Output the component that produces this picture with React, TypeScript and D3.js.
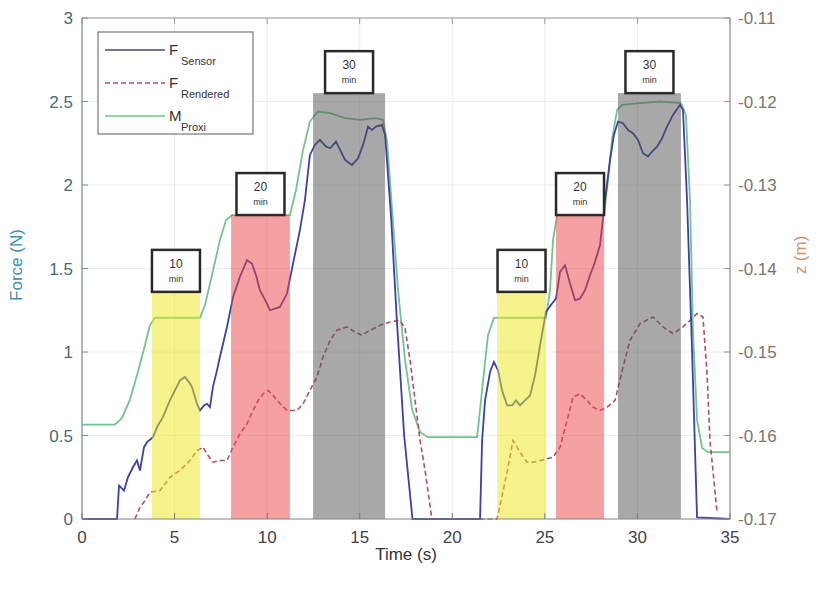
import React from "react";
import * as d3 from "d3";

// Measured force (N)
const sensorT = [0, 1.89, 2.0, 2.27, 2.48, 2.75, 2.97, 3.13, 3.35, 3.51, 3.83, 4.1, 4.37, 4.75, 5.02, 5.29, 5.56, 5.78, 5.94, 6.21, 6.37, 6.59, 6.75, 6.91, 7.07, 7.29, 7.45, 7.83, 8.16, 8.53, 8.91, 9.18, 9.4, 9.61, 9.99, 10.15, 10.42, 10.69, 11.07, 11.4, 11.77, 12.04, 12.31, 12.58, 12.85, 13.18, 13.4, 13.72, 13.94, 14.21, 14.58, 14.91, 15.18, 15.45, 15.66, 15.88, 16.2, 16.37, 16.7, 17.0, 17.4, 17.85, 21.5, 21.61, 21.77, 22.04, 22.25, 22.47, 22.69, 22.96, 23.23, 23.44, 23.66, 23.93, 24.2, 24.47, 24.74, 25.06, 25.39, 25.6, 25.82, 26.09, 26.36, 26.63, 26.9, 27.17, 27.44, 27.71, 27.98, 28.25, 28.52, 28.73, 28.95, 29.22, 29.49, 29.76, 30.03, 30.3, 30.57, 30.79, 31.06, 31.33, 31.6, 31.92, 32.3, 32.46, 32.68, 32.95, 33.22, 35];
const sensorF = [0, 0, 0.2, 0.17, 0.25, 0.31, 0.35, 0.29, 0.43, 0.46, 0.49, 0.56, 0.61, 0.71, 0.77, 0.83, 0.85, 0.82, 0.79, 0.69, 0.65, 0.68, 0.69, 0.67, 0.79, 0.89, 0.97, 1.15, 1.33, 1.45, 1.55, 1.53, 1.46, 1.37, 1.29, 1.25, 1.26, 1.27, 1.35, 1.53, 1.73, 1.91, 2.18, 2.24, 2.27, 2.23, 2.22, 2.26, 2.21, 2.15, 2.12, 2.16, 2.24, 2.35, 2.33, 2.35, 2.36, 2.3, 1.8, 1.2, 0.5, 0, 0, 0.47, 0.71, 0.88, 0.94, 0.89, 0.77, 0.68, 0.68, 0.71, 0.68, 0.71, 0.74, 0.86, 1.04, 1.24, 1.29, 1.32, 1.48, 1.52, 1.41, 1.31, 1.32, 1.37, 1.46, 1.54, 1.64, 1.91, 2.15, 2.3, 2.38, 2.37, 2.33, 2.31, 2.27, 2.19, 2.17, 2.2, 2.23, 2.28, 2.35, 2.42, 2.48, 2.45, 1.91, 1.01, 0.01, 0];

// Rendered force (N)
const renderedT = [2.86, 3.13, 3.4, 3.67, 4.21, 4.75, 5.29, 5.83, 6.21, 6.54, 6.81, 7.08, 7.45, 7.83, 8.16, 8.53, 8.91, 9.24, 9.51, 9.78, 10.05, 10.26, 10.53, 11.07, 11.61, 11.94, 12.31, 12.69, 13.02, 13.4, 13.77, 14.31, 14.75, 15.12, 15.56, 16.1, 16.64, 17.18, 17.45, 17.72, 17.99, 18.26, 18.53, 18.9, 22.42, 22.69, 22.96, 23.28, 23.66, 24.04, 24.36, 24.74, 25.44, 25.82, 26.2, 26.52, 26.9, 27.28, 27.6, 27.98, 28.36, 28.79, 29.22, 29.6, 30.14, 30.84, 31.38, 31.92, 32.46, 33.22, 33.54, 33.76, 33.92, 34.3];
const renderedF = [0, 0.07, 0.11, 0.16, 0.17, 0.25, 0.29, 0.35, 0.41, 0.43, 0.38, 0.34, 0.35, 0.35, 0.43, 0.51, 0.57, 0.65, 0.71, 0.75, 0.77, 0.75, 0.71, 0.65, 0.65, 0.69, 0.77, 0.85, 0.97, 1.07, 1.13, 1.15, 1.12, 1.1, 1.13, 1.16, 1.18, 1.19, 1.14, 0.95, 0.71, 0.47, 0.29, 0, 0, 0.14, 0.28, 0.47, 0.4, 0.34, 0.34, 0.35, 0.37, 0.43, 0.59, 0.73, 0.75, 0.71, 0.67, 0.65, 0.67, 0.71, 0.91, 1.07, 1.17, 1.21, 1.15, 1.11, 1.15, 1.23, 1.21, 0.87, 0.47, 0.04];

// Proxy position z (m), right axis
const proxiT = [0, 1.78, 2.16, 2.59, 3.02, 3.4, 3.67, 3.94, 6.37, 6.64, 7.02, 7.45, 7.78, 8.1, 11.23, 11.56, 11.94, 12.31, 12.74, 13.4, 14.21, 15.02, 15.83, 16.26, 16.47, 16.75, 17.07, 17.45, 17.83, 18.26, 18.69, 21.34, 21.5, 21.72, 21.93, 22.25, 25.06, 25.28, 25.44, 25.66, 28.2, 28.41, 28.63, 28.9, 29.17, 30.14, 31.22, 32.35, 32.62, 32.84, 33.0, 33.22, 33.49, 33.81, 35];
const proxiZ = [-0.1587, -0.1587, -0.1579, -0.1557, -0.1524, -0.1492, -0.1468, -0.1459, -0.1459, -0.1444, -0.1408, -0.1366, -0.1342, -0.1336, -0.1336, -0.1306, -0.1258, -0.1224, -0.1212, -0.1214, -0.122, -0.1222, -0.122, -0.1222, -0.1246, -0.133, -0.1426, -0.151, -0.1569, -0.1596, -0.1602, -0.1602, -0.1569, -0.1522, -0.148, -0.1459, -0.1459, -0.1426, -0.1366, -0.1336, -0.1336, -0.1294, -0.1246, -0.121, -0.1204, -0.1202, -0.12, -0.1202, -0.1216, -0.1318, -0.1474, -0.1581, -0.1615, -0.162, -0.162];

// Stiffness phases (shaded bands)
const phaseStart = [3.78, 8.05, 12.48, 22.42, 25.6, 28.95];
const phaseEnd = [6.37, 11.23, 16.37, 25.06, 28.2, 32.35];
const phaseTop = [1.36, 1.82, 2.55, 1.36, 1.82, 2.55];
const phaseLabel = ["10", "20", "30", "10", "20", "30"];

const timeTicks = [0, 5, 10, 15, 20, 25, 30, 35];
const forceTicks = [0, 0.5, 1, 1.5, 2, 2.5, 3];
const zTicks = [-0.17, -0.16, -0.15, -0.14, -0.13, -0.12, -0.11];

const phaseColor: Record<string, string> = { "10": "#eee81a", "20": "#ee4444", "30": "#525252" };

const FONT = "'Liberation Sans', Arial, sans-serif";

const App = () => {
  const width = 817;
  const height = 603;
  const left = 82, right = 730, top = 18, bottom = 519;

  const x = d3.scaleLinear().domain([0, 35]).range([left, right]);
  const yF = d3.scaleLinear().domain([0, 3]).range([bottom, top]);
  const yZ = d3.scaleLinear().domain([-0.17, -0.11]).range([bottom, top]);

  const lineF = d3.line<[number, number]>().x((d) => x(d[0])).y((d) => yF(d[1]));
  const lineZ = d3.line<[number, number]>().x((d) => x(d[0])).y((d) => yZ(d[1]));

  const sensorPath = lineF(sensorT.map((t, i) => [t, sensorF[i]]));
  const renderedPath = lineF(renderedT.map((t, i) => [t, renderedF[i]]));
  const proxiPath = lineZ(proxiT.map((t, i) => [t, proxiZ[i]]));

  const sensorColor = "#3a43a0";
  const renderedColor = "#b04f68";
  const proxiColor = "#74c48c";

  const legendItems = [
    { main: "F", sub: "Sensor", color: "#4a4a6a", dash: "" },
    { main: "F", sub: "Rendered", color: renderedColor, dash: "5,3" },
    { main: "M", sub: "Proxi", color: proxiColor, dash: "" },
  ];

  return (
    <svg width={width} height={height} style={{ position: "absolute", left: 0, top: 0, background: "#fff" }} fontFamily={FONT}>
      {/* grid */}
      {timeTicks.map((t) => (
        <line key={"gx" + t} x1={x(t)} x2={x(t)} y1={top} y2={bottom} stroke="#ececec" strokeWidth={1} />
      ))}
      {forceTicks.map((f) => (
        <line key={"gy" + f} x1={left} x2={right} y1={yF(f)} y2={yF(f)} stroke="#ececec" strokeWidth={1} />
      ))}

      {/* data */}
      <path d={proxiPath!} fill="none" stroke={proxiColor} strokeWidth={1.8} />
      <path d={renderedPath!} fill="none" stroke={renderedColor} strokeWidth={1.6} strokeDasharray="5,3" />
      <path d={sensorPath!} fill="none" stroke={sensorColor} strokeWidth={1.8} />

      {/* shaded phases */}
      {phaseStart.map((s, i) => (
        <rect key={"p" + i} x={x(s)} y={yF(phaseTop[i])} width={x(phaseEnd[i]) - x(s)} height={yF(0) - yF(phaseTop[i])}
          fill={phaseColor[phaseLabel[i]]} fillOpacity={0.5} />
      ))}

      {/* phase labels */}
      {phaseStart.map((s, i) => {
        const cx = x((s + phaseEnd[i]) / 2);
        const by = yF(phaseTop[i]);
        const bw = 48, bh = 42;
        return (
          <g key={"l" + i}>
            <rect x={cx - bw / 2} y={by - bh} width={bw} height={bh} fill="#fff" stroke="#2a2a2a" strokeWidth={2.5} />
            <text x={cx} y={by - bh + 18} textAnchor="middle" fontSize={12} fill="#333">{phaseLabel[i]}</text>
            <text x={cx} y={by - 10} textAnchor="middle" fontSize={9} fill="#333">min</text>
          </g>
        );
      })}

      {/* axes frame */}
      <line x1={left} x2={right} y1={top} y2={top} stroke="#9a9a9a" strokeWidth={1.2} />
      <line x1={left} x2={right} y1={bottom} y2={bottom} stroke="#8a8a8a" strokeWidth={1.2} />
      <line x1={left} x2={left} y1={top} y2={bottom} stroke="#8fa0a0" strokeWidth={1.4} />
      <line x1={right} x2={right} y1={top} y2={bottom} stroke="#a8a096" strokeWidth={1.4} />

      {timeTicks.map((t) => (
        <g key={"xt" + t}>
          <line x1={x(t)} x2={x(t)} y1={bottom} y2={bottom - 6} stroke="#777" />
          <line x1={x(t)} x2={x(t)} y1={top} y2={top + 6} stroke="#999" />
          <text x={x(t)} y={bottom + 24} textAnchor="middle" fontSize={17} fill="#444">{t}</text>
        </g>
      ))}
      {forceTicks.map((f) => (
        <g key={"yt" + f}>
          <line x1={left} x2={left + 6} y1={yF(f)} y2={yF(f)} stroke="#7f9090" />
          <text x={left - 9} y={yF(f) + 6} textAnchor="end" fontSize={17} fill="#4a6a74">{f}</text>
        </g>
      ))}
      {zTicks.map((z) => (
        <g key={"zt" + z}>
          <line x1={right} x2={right - 6} y1={yZ(z)} y2={yZ(z)} stroke="#a09688" />
          <text x={right + 8} y={yZ(z) + 6} textAnchor="start" fontSize={17} fill="#7e746a">{z.toFixed(2)}</text>
        </g>
      ))}

      <text x={(left + right) / 2} y={560} textAnchor="middle" fontSize={17} fill="#333">Time (s)</text>
      <text transform={`translate(22,${265}) rotate(-90)`} textAnchor="middle" fontSize={17} fill="#3b8fb0">Force (N)</text>
      <text transform={`translate(806,${255}) rotate(-90)`} textAnchor="middle" fontSize={17} fill="#c99570">z (m)</text>

      {/* legend */}
      <rect x={98} y={32} width={155} height={102} fill="#fff" stroke="#777" strokeWidth={1.2} />
      {legendItems.map((it, i) => {
        const ly = 50 + i * 33;
        return (
          <g key={"lg" + i}>
            <line x1={105} x2={165} y1={ly} y2={ly} stroke={it.color} strokeWidth={1.6} strokeDasharray={it.dash} />
            <text x={169} y={ly + 5} fontSize={15} fill="#333">{it.main}</text>
            <text x={181} y={ly + 15} fontSize={11} fill="#333">{it.sub}</text>
          </g>
        );
      })}
    </svg>
  );
};

export default App;
